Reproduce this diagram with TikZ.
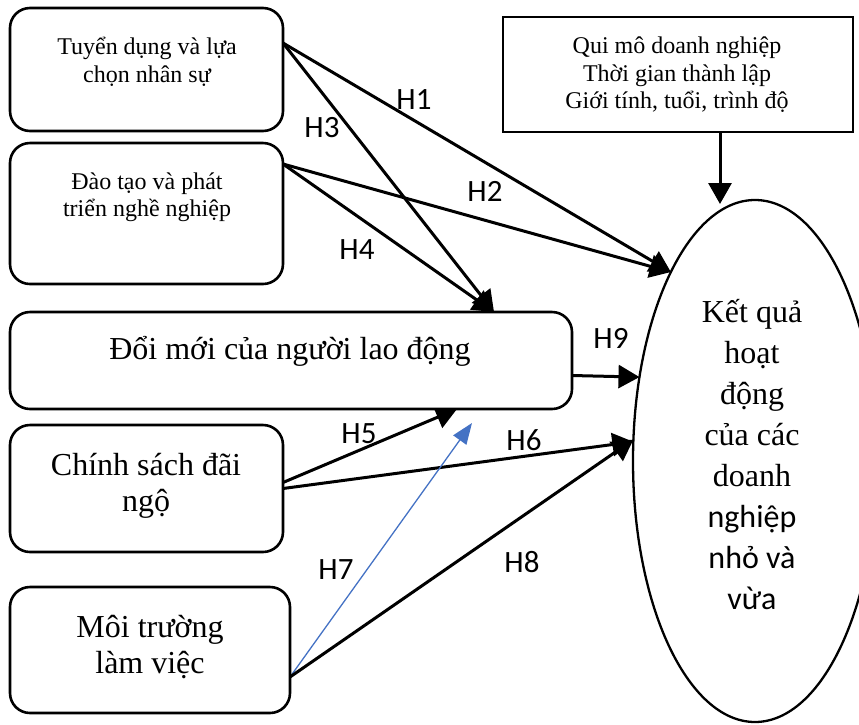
\documentclass[tikz,border=0pt]{standalone}
\usepackage{fontspec}
\setmainfont{Liberation Serif}
\newfontfamily\calib{Carlito}
\usetikzlibrary{shapes.geometric,arrows.meta,calc,backgrounds}
\begin{document}
\begin{tikzpicture}[x=1pt,y=1pt,
  rbox/.style={draw,line width=2.6pt,rounded corners=20pt,fill=white,inner sep=0pt,outer sep=0pt},
  sbox/.style={draw,line width=2.6pt,fill=white,inner sep=0pt,outer sep=0pt},
  oval/.style={draw,ellipse,line width=2.3pt,fill=white,inner sep=0pt,outer sep=0pt},
  small/.style={align=center,inner sep=0pt,font=\fontsize{24}{27.5}\selectfont},
  big/.style={align=center,inner sep=0pt,font=\fontsize{32}{36}\selectfont},
  hlab/.style={inner sep=0pt,font=\calib\fontsize{31}{36}\selectfont},
  arr/.style={line width=3pt,-{Triangle[length=21pt,width=23pt]}},
  barr/.style={line width=1.3pt,draw={rgb,255:red,68;green,114;blue,196},-{Triangle[length=21pt,width=16pt,fill={rgb,255:red,68;green,114;blue,196}]}}
]
\useasboundingbox (0,0) rectangle (859,-724);
% boxes
\node[rbox,minimum width=273pt,minimum height=123pt] (b1) at (146.5,-69.5) {};
\node[rbox,minimum width=273pt,minimum height=141pt] (b2) at (146.5,-213.5) {};
\node[rbox,minimum width=562pt,minimum height=97pt] (b3) at (291,-360.5) {};
\node[rbox,minimum width=273pt,minimum height=127pt] (b4) at (146.5,-488.5) {};
\node[rbox,minimum width=280pt,minimum height=126pt] (b5) at (150,-650) {};
\node[sbox,minimum width=350pt,minimum height=115pt] (ctrl) at (678,-74.5) {};
\node[oval,minimum width=244pt,minimum height=522pt] (res) at (755,-461) {};
% texts
\node[small] (t1) at (147,-62) {Tuyển dụng và lựa\\chọn nhân sự};
\node[small] (t2) at (147,-197) {Đào tạo và phát\\triển nghề nghiệp};
\node[big] (t3) at (290,-351) {Đổi mới của người lao động};
\node[big] (t4) at (146,-486) {Chính sách đãi\\ngộ};
\node[big] (t5) at (150,-647) {Môi trường\\làm việc};
\node[small] (tc) at (677,-75) {Qui mô doanh nghiệp\\Thời gian thành lập\\Giới tính, tuổi, trình độ};
\node[align=center,inner sep=0pt,font=\fontsize{32}{41}\selectfont] (tr) at (752,-455)
  {Kết quả\\hoạt\\động\\của các\\doanh\\{\calib nghiệp}\\{\calib nhỏ và}\\{\calib vừa}};
% labels
\node[hlab] (l1) at (414,-100) {H1};
\node[hlab] (l2) at (485,-191) {H2};
\node[hlab] (l3) at (322,-128) {H3};
\node[hlab] (l4) at (357,-250) {H4};
\node[hlab] (l5) at (359,-434) {H5};
\node[hlab] (l6) at (524,-440) {H6};
\node[hlab] (l7) at (336,-570) {H7};
\node[hlab] (l8) at (522,-562) {H8};
\node[hlab] (l9) at (611,-338) {H9};
% connectors
\coordinate (s1) at ($(b1.north east)+(0,-35)$);
\coordinate (s2) at ($(b2.north east)+(0,-21)$);
\coordinate (s5) at ($(b4.east)+(0,6)$);
\coordinate (s7) at ($(b5.east)+(0,-27)$);
\coordinate (s9) at ($(b3.east)+(0,-15)$);
\coordinate (e34) at ($(b3.north west)+(484,0)$);
\coordinate (e5) at ($(b3.south west)+(447,0)$);
\coordinate (e7) at (472,-423);
\coordinate (ec) at (720,-204);
\begin{pgfonlayer}{background}
\draw[arr] (s1) -- (res.114);
\draw[arr] (s2) -- (res.114);
\draw[arr] (s1) -- (e34);
\draw[arr] (s2) -- (e34);
\draw[arr] (s5) -- (e5);
\draw[arr] (b4.east) -- (res.171);
\draw[barr] (s7) -- (e7);
\draw[arr] (s7) -- (res.170);
\draw[arr] (s9) -- (res.144);
\draw[arr] (ctrl.south -| ec) -- (ec);
\end{pgfonlayer}
\end{tikzpicture}
\end{document}
